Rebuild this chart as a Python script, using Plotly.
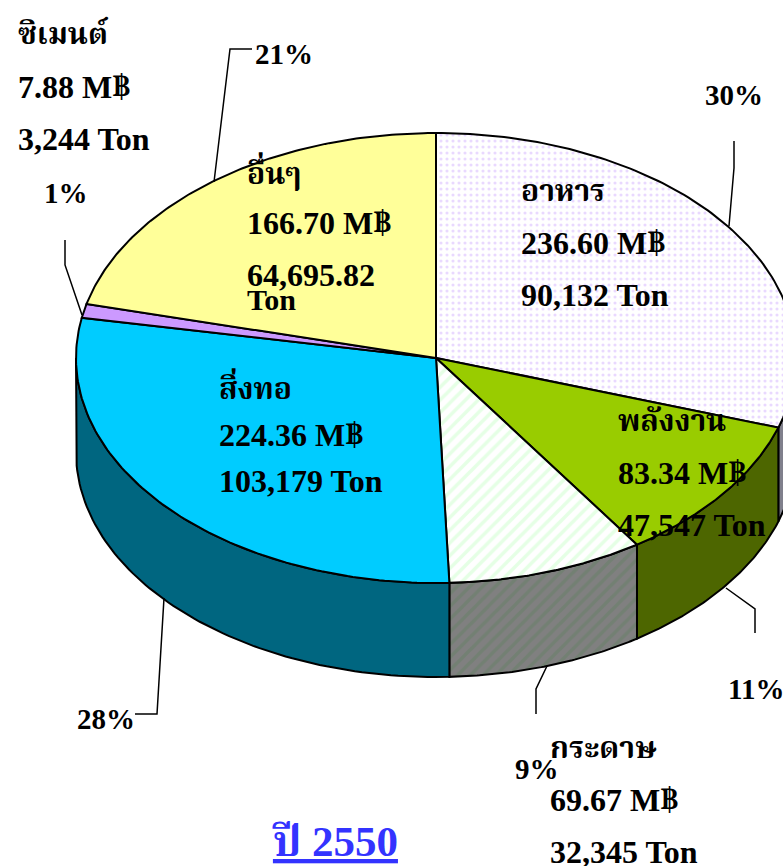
import numpy as np
import plotly.graph_objects as go

# Data
categories = ["อาหาร", "พลังงาน", "กระดาษ", "สิ่งทอ", "ซิเมนต์", "อื่นๆ"]
value_mb = [236.60, 83.34, 69.67, 224.36, 7.88, 166.70]
tons = ["90,132", "47,547", "32,345", "103,179", "3,244", "64,695.82"]
percent_labels = ["30%", "11%", "9%", "28%", "1%", "21%"]
title_text = "ปี 2550"

# Styles / layout
top_fill = ["#ffffff", "#99cc00", "#ffffff", "#00ccff", "#cc99ff", "#ffff99"]
wall_fill = ["#80808c", "#4d6600", "#808080", "#006680", "#66407f", "#80804d"]
patterns = [
    dict(shape=".", fgcolor="#d4b3ff", bgcolor="#ffffff", size=6, solidity=0.22),
    None,
    dict(shape="/", fgcolor="#ccffcc", bgcolor="#ffffff", size=9, solidity=0.4),
    None, None, None,
]
wall_patterns = [
    None, None,
    dict(shape="/", fgcolor="#667f66", bgcolor="#808080", size=9, solidity=0.4),
    None, None, None,
]
CX, CY, RX, RY, DEPTH = 436, 358, 360, 225, 94
W, H = 783, 866
SERIF = "Liberation Serif, Noto Serif Thai, Noto Sans Thai, DejaVu Serif, serif"


def ring(t):
    r = np.radians(t)
    return CX + RX * np.sin(r), CY - RY * np.cos(r)


fig = go.Figure()
shares = np.array(value_mb) / sum(value_mb) * 360
ends = np.cumsum(shares)
starts = ends - shares

# side walls (only the front half of the ring is visible)
for a, b, col, pat in zip(starts, ends, wall_fill, wall_patterns):
    lo, hi = max(a, 90), min(b, 270)
    if hi <= lo:
        continue
    t = np.linspace(lo, hi, 80)
    x, y = ring(t)
    px = np.concatenate([x, x[::-1], x[:1]])
    py = np.concatenate([y, (y + DEPTH)[::-1], y[:1]])
    kw = dict(fillpattern=pat) if pat else {}
    fig.add_trace(go.Scatter(x=px, y=py, mode="lines", fill="toself", fillcolor=col,
                             line=dict(color="black", width=2), hoverinfo="skip", **kw))

# top wedges
for a, b, col, pat in zip(starts, ends, top_fill, patterns):
    t = np.linspace(a, b, 120)
    x, y = ring(t)
    px = np.concatenate([[CX], x, [CX]])
    py = np.concatenate([[CY], y, [CY]])
    kw = dict(fillpattern=pat) if pat else {}
    fig.add_trace(go.Scatter(x=px, y=py, mode="lines", fill="toself", fillcolor=col,
                             line=dict(color="black", width=2), hoverinfo="skip", **kw))

# leader lines
leaders = [
    ([729, 734, 734], [226, 168, 141]),
    ([726, 755, 755], [588, 609, 633]),
    ([547, 536, 536], [666, 689, 714]),
    ([164, 157, 135], [598, 714, 714]),
    ([82, 65, 65], [315, 265, 240]),
    ([214, 230, 252], [182, 49, 49]),
]
for lx, ly in leaders:
    fig.add_trace(go.Scatter(x=lx, y=ly, mode="lines", line=dict(color="black", width=1.5),
                             hoverinfo="skip"))

# positions of labels: (x, y of three lines)
label_pos = [
    (521, [190, 243, 295]),
    (618, [420, 473, 525]),
    (550, [747, 800, 852]),
    (219, [386, 435, 481]),
    (18, [33, 87, 139]),
    (247, [171, 223, 275]),
]
pct_pos = [(705, 95), (728, 689), (515, 769), (77, 719), (44, 193), (255, 54)]


def note(x, y, text, size=32, color="black"):
    fig.add_annotation(x=x, y=y, text=text, showarrow=False, xanchor="left", yanchor="middle",
                       align="left", font=dict(family=SERIF, size=size, color=color), xshift=-2)


for i, (cat, v, tn) in enumerate(zip(categories, value_mb, tons)):
    x0, ys = label_pos[i]
    note(x0, ys[0], f"<b>{cat}</b>", size=30)
    note(x0, ys[1], f"<b>{v:.2f} M฿</b>", size=32)
    if tn == "64,695.82":
        note(x0, ys[2], f"<b>{tn}</b>")
        note(x0, 299, "<b>Ton</b>", size=30)
    else:
        note(x0, ys[2], f"<b>{tn} Ton</b>")

for (x0, y0), p in zip(pct_pos, percent_labels):
    note(x0, y0, f"<b>{p}</b>", size=29)
note(-45, 605, "<b>28%</b>", size=29)

note(272, 841, f"<b><u>{title_text}</u></b>", size=43, color="#3333ff")

fig.update_layout(
    width=W, height=H, margin=dict(l=0, r=0, t=0, b=0), showlegend=False,
    paper_bgcolor="white", plot_bgcolor="white",
    xaxis=dict(range=[0, W], visible=False, fixedrange=True),
    yaxis=dict(range=[H, 0], visible=False, fixedrange=True),
)
fig.write_html("out.html", config=dict(displayModeBar=False),
               post_script="document.body.style.margin='0';document.body.style.overflow='hidden';")
